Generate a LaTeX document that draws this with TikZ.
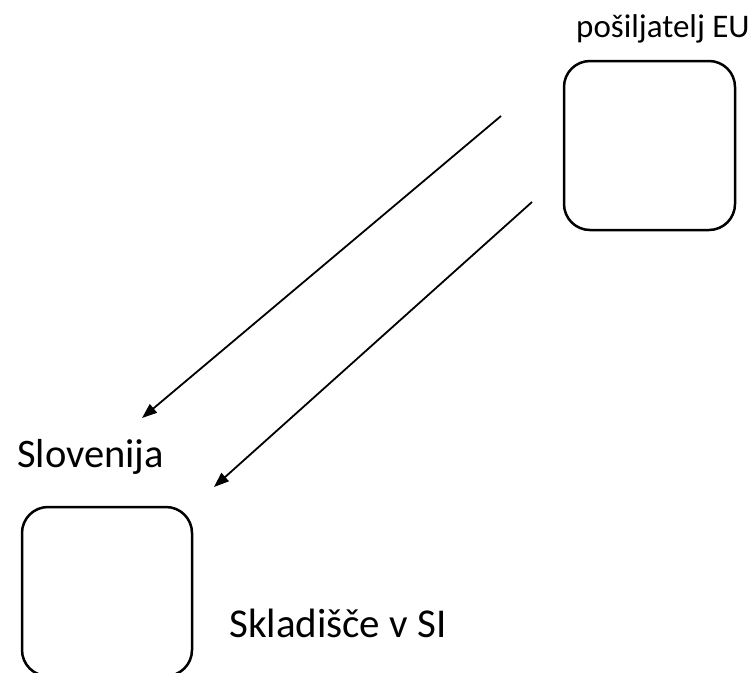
\documentclass[tikz,border=0pt]{standalone}
\usepackage{fontspec}
\setmainfont{Carlito}
\usetikzlibrary{arrows.meta}
\tikzset{
  boxstyle/.style={draw, line width=2.5pt, rounded corners=26pt, minimum width=171pt, minimum height=169pt, inner sep=0pt},
  lbl/.style={inner sep=0pt, anchor=base west},
  arr/.style={line width=1.8pt, -{Triangle[length=15pt,width=11pt]}}
}
\begin{document}
\begin{tikzpicture}[x=1pt,y=-1pt]
\useasboundingbox (0,0) rectangle (751,672);
\node[boxstyle] (eu) at (649.5,145.5) {};
\node[boxstyle, minimum width=170pt] (si) at (107,591.5) {};
\node[lbl, font=\fontsize{33}{38}\selectfont] (euL) at (576,37) {pošiljatelj EU};
\node[lbl, font=\fontsize{40.5}{46}\selectfont] (slo) at (17,467) {Slovenija};
\node[lbl, font=\fontsize{41}{46}\selectfont] (skl) at (229,637) {Skladišče v SI};
\coordinate (s1) at (501,116);
\coordinate (t1) at (142,418);
\coordinate (s2) at (532,202);
\coordinate (t2) at (214,487);
\draw[arr] (s1) -- (t1);
\draw[arr] (s2) -- (t2);
\end{tikzpicture}
\end{document}
